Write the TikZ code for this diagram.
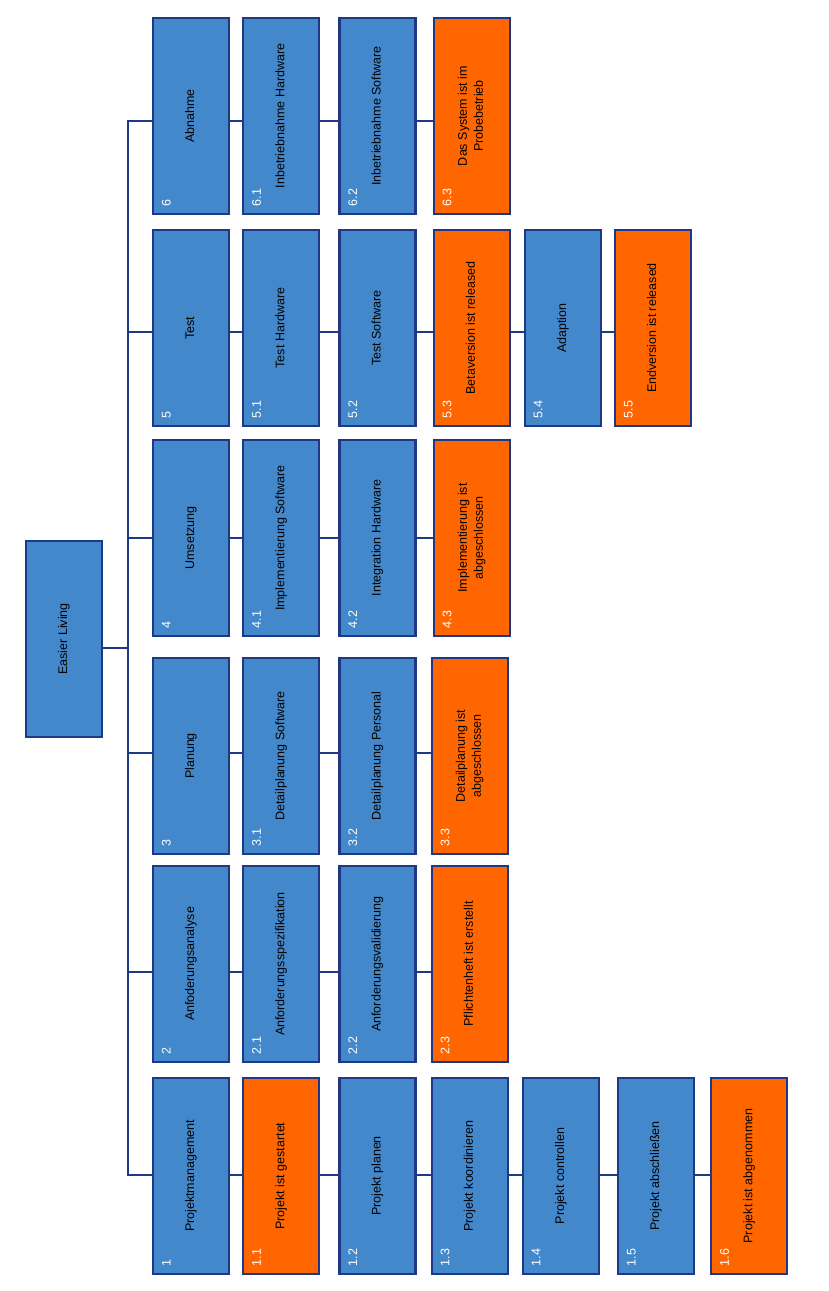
\documentclass[tikz,border=0pt]{standalone}
\usepackage{fontspec}
\setmainfont{Liberation Sans}
\usetikzlibrary{positioning}
\definecolor{boxblue}{HTML}{4488CC}
\definecolor{msorange}{HTML}{FF6600}
\definecolor{edgeblue}{HTML}{1E3787}
\newcommand{\vtxt}[1]{\rotatebox{90}{\begin{tabular}{@{}c@{}}#1\end{tabular}}}

\begin{document}
\begin{tikzpicture}[x=1pt,y=-1pt,
  every node/.style={minimum width=76pt,minimum height=196pt,inner sep=0pt,
    font=\fontsize{12.5}{16}\selectfont,line width=2.2pt,draw=edgeblue},%
  b/.style={fill=boxblue},%
  o/.style={fill=msorange},%
  numl/.style={draw=none,fill=none,minimum width=0pt,minimum height=0pt,
    anchor=south west,xshift=9pt,yshift=8pt,text=white},%
  num/.style={label={[numl]south west:{\rotatebox{90}{#1}}}},%
  e/.style={line width=2pt,draw=edgeblue},%
  ]
  \useasboundingbox (0,0) rectangle (828,1291);
  \node (root) [b] at (64,639) {\vtxt{Easier Living}};

  \node (pm) [b,num=1] at (191,1176) {\vtxt{Projektmanagement}};
  \node (pm1) [right=12pt of pm,o,num=1.1] {\vtxt{Projekt ist gestartet}};
  \node (pm2) [right=18pt of pm1,b,num=1.2] {\vtxt{Projekt planen}};
  \node (pm3) [right=14pt of pm2,b,num=1.3] {\vtxt{Projekt koordinieren}};
  \node (pm4) [right=13pt of pm3,b,num=1.4] {\vtxt{Projekt controllen}};
  \node (pm5) [right=17pt of pm4,b,num=1.5] {\vtxt{Projekt abschließen}};
  \node (pm6) [right=15pt of pm5,o,num=1.6] {\vtxt{Projekt ist abgenommen}};

  \node (anf) [b,num=2] at (191,964) {\vtxt{Anfoderungsanalyse}};
  \node (anf1) [right=12pt of anf,b,num=2.1] {\vtxt{Anforderungsspezifikation}};
  \node (anf2) [right=18pt of anf1,b,num=2.2] {\vtxt{Anforderungsvalidierung}};
  \node (anf3) [right=14pt of anf2,o,num=2.3] {\vtxt{Pflichtenheft ist erstellt}};

  \node (plan) [b,num=3] at (191,756) {\vtxt{Planung}};
  \node (plan1) [right=12pt of plan,b,num=3.1] {\vtxt{Detailplanung Software}};
  \node (plan2) [right=18pt of plan1,b,num=3.2] {\vtxt{Detailplanung Personal}};
  \node (plan3) [right=14pt of plan2,o,num=3.3] {\vtxt{Detailplanung ist\\abgeschlossen}};

  \node (ums) [b,num=4] at (191,538) {\vtxt{Umsetzung}};
  \node (ums1) [right=12pt of ums,b,num=4.1] {\vtxt{Implementierung Software}};
  \node (ums2) [right=18pt of ums1,b,num=4.2] {\vtxt{Integration Hardware}};
  \node (ums3) [right=16pt of ums2,o,num=4.3] {\vtxt{Implementierung ist\\abgeschlossen}};

  \node (test) [b,num=5] at (191,328) {\vtxt{Test}};
  \node (test1) [right=12pt of test,b,num=5.1] {\vtxt{Test Hardware}};
  \node (test2) [right=18pt of test1,b,num=5.2] {\vtxt{Test Software}};
  \node (test3) [right=16pt of test2,o,num=5.3] {\vtxt{Betaversion ist released}};
  \node (test4) [right=13pt of test3,b,num=5.4] {\vtxt{Adaption}};
  \node (test5) [right=12pt of test4,o,num=5.5] {\vtxt{Endversion ist released}};

  \node (abn) [b,num=6] at (191,116) {\vtxt{Abnahme}};
  \node (abn1) [right=12pt of abn,b,num=6.1] {\vtxt{Inbetriebnahme Hardware}};
  \node (abn2) [right=18pt of abn1,b,num=6.2] {\vtxt{Inbetriebnahme Software}};
  \node (abn3) [right=16pt of abn2,o,num=6.3] {\vtxt{Das System ist im\\Probebetrieb}};

  % connector rows
  \coordinate (rt) at (0,648);
  \coordinate (tk) at (128,0);
  \coordinate (r1) at (0,1175);
  \coordinate (r2) at (0,972);
  \coordinate (r3) at (0,753);
  \coordinate (r4) at (0,538);
  \coordinate (r5) at (0,332);
  \coordinate (r6) at (0,121);

  \draw [e] (root.east |- rt) -- (tk |- rt);
  \draw [e] (abn.west |- r6) -| (tk |- r1) -- (pm.west |- r1);
  \foreach \n/\r in {anf/r2,plan/r3,ums/r4,test/r5}
    \draw [e] (tk |- \r) -- (\n.west |- \r);
  \foreach \a/\b/\r in {pm/pm1/r1,pm1/pm2/r1,pm2/pm3/r1,pm3/pm4/r1,pm4/pm5/r1,pm5/pm6/r1,
    anf/anf1/r2,anf1/anf2/r2,anf2/anf3/r2,plan/plan1/r3,plan1/plan2/r3,plan2/plan3/r3,
    ums/ums1/r4,ums1/ums2/r4,ums2/ums3/r4,test/test1/r5,test1/test2/r5,test2/test3/r5,
    test3/test4/r5,test4/test5/r5,abn/abn1/r6,abn1/abn2/r6,abn2/abn3/r6}
    \draw [e] (\a.east |- \r) -- (\b.west |- \r);
\end{tikzpicture}
\end{document}
